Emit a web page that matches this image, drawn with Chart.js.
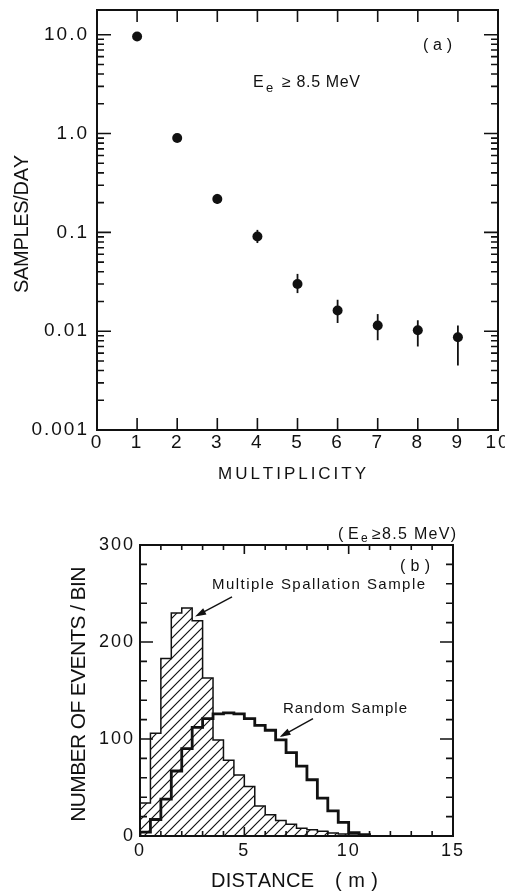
<!DOCTYPE html>
<html>
<head>
<meta charset="utf-8">
<script src="https://cdn.jsdelivr.net/npm/chart.js@4.4.1/dist/chart.umd.min.js"></script>
<style>
  html, body { margin: 0; padding: 0; background: #fff; overflow: hidden; }
  canvas { display: block; position: absolute; left: 0; }
  #multChart { top: 0; }
  #distChart { top: 490px; }
</style>
</head>
<body>
<canvas id="multChart" width="505" height="490"></canvas>
<canvas id="distChart" width="505" height="401"></canvas>
<script>
// (a) samples per day vs multiplicity
const multiplicity = [1, 2, 3, 4, 5, 6, 7, 8, 9];
const samplesPerDay = [9.6, 0.90, 0.218, 0.091, 0.030, 0.0162, 0.0114, 0.0102, 0.0087];
const errLow = [9.2, 0.86, 0.195, 0.078, 0.0243, 0.0121, 0.0081, 0.0070, 0.0045];
const errHigh = [10.0, 0.94, 0.245, 0.106, 0.038, 0.0208, 0.0149, 0.0129, 0.0114];
const rateTickValues = [0.001, 0.01, 0.1, 1, 10];
const rateTickLabels = ['0.001', '0.01', '0.1', '1.0', '10.0'];
const multTickValues = [1, 2, 3, 4, 5, 6, 7, 8, 9];

// (b) distance histograms, 0.5 m bins
const binEdges = [0, 0.5, 1, 1.5, 2, 2.5, 3, 3.5, 4, 4.5, 5, 5.5, 6, 6.5, 7, 7.5, 8, 8.5, 9, 9.5, 10, 10.5, 11];
const spallationCounts = [34, 106, 183, 230, 235, 222, 163, 99, 78, 63, 51, 31, 22, 16, 12, 8, 6.5, 5, 3, 2, 1, 0.5];
const randomCounts = [4, 17, 38, 67, 90, 112, 121, 126, 127, 126, 121, 114, 109, 99, 86, 72, 58, 39, 26, 14, 3.5, 1.5];
const distMajorTicks = [5, 10];
const distMinorTicks = [1, 2, 3, 4, 6, 7, 8, 9, 11, 12, 13, 14];
const countMajorTicks = [100, 200];
const countMinorTicks = [20, 40, 60, 80, 120, 140, 160, 180, 220, 240, 260, 280];

const ink = '#111';
const family = '"Liberation Sans", Arial, sans-serif';

function logMinorTicks(min, max) {
  const out = [];
  for (let e = -3; e <= 1; e++) {
    for (let m = 2; m <= 9; m++) {
      const v = m * Math.pow(10, e);
      if (v > min && v < max) out.push(v);
    }
  }
  return out;
}

function drawSpaced(ctx, str, x, y, size, width) {
  ctx.font = size + 'px ' + family;
  const chars = Array.from(str);
  const widths = chars.map(c => ctx.measureText(c).width);
  const total = widths.reduce((a, b) => a + b, 0);
  const gap = width && chars.length > 1 ? (width - total) / (chars.length - 1) : 0;
  let cx = x;
  chars.forEach((c, i) => {
    ctx.fillText(c, cx, y);
    cx += widths[i] + gap;
  });
}

// letter spacing for the tick labels drawn by the scales
const spacingPlugin = {
  id: 'spacing',
  beforeDraw(chart, args, opts) {
    chart.ctx.letterSpacing = opts.value || '0px';
  },
  afterDraw(chart) {
    chart.ctx.letterSpacing = '0px';
  }
};

// closed frame with inward ticks on all four sides
const frameTicks = {
  id: 'frameTicks',
  afterDatasetsDraw(chart, args, opts) {
    const {ctx, chartArea: a, scales} = chart;
    ctx.save();
    ctx.strokeStyle = ink;
    ctx.lineWidth = 1.6;
    ctx.beginPath();
    const xt = opts.xTicks, yt = opts.yTicks;
    [[xt.major, xt.majorLen], [xt.minor, xt.minorLen]].forEach(([vals, len]) => {
      vals.forEach(v => {
        const px = scales.x.getPixelForValue(v);
        ctx.moveTo(px, a.bottom); ctx.lineTo(px, a.bottom - len);
        ctx.moveTo(px, a.top); ctx.lineTo(px, a.top + len);
      });
    });
    [[yt.major, yt.majorLen], [yt.minor, yt.minorLen]].forEach(([vals, len]) => {
      vals.forEach(v => {
        const py = scales.y.getPixelForValue(v);
        ctx.moveTo(a.left, py); ctx.lineTo(a.left + len, py);
        ctx.moveTo(a.right, py); ctx.lineTo(a.right - len, py);
      });
    });
    ctx.stroke();
    ctx.lineWidth = 2;
    ctx.strokeRect(a.left, a.top, a.right - a.left, a.bottom - a.top);
    ctx.restore();
  }
};

// axis titles, labels and arrows
const notesPlugin = {
  id: 'notes',
  afterDraw(chart, args, opts) {
    const ctx = chart.ctx;
    ctx.save();
    ctx.letterSpacing = '0px';
    ctx.fillStyle = ink;
    ctx.strokeStyle = ink;
    ctx.textAlign = 'left';
    ctx.textBaseline = 'alphabetic';
    (opts.texts || []).forEach(t => {
      if (t.rotate) {
        ctx.save();
        ctx.translate(t.x, t.y);
        ctx.rotate(-Math.PI / 2);
        drawSpaced(ctx, t.text, 0, 0, t.size, t.width);
        ctx.restore();
      } else {
        drawSpaced(ctx, t.text, t.x, t.y, t.size, t.width);
      }
    });
    (opts.arrows || []).forEach(ar => {
      const x0 = chart.scales.x.getPixelForValue(ar.from[0]);
      const y0 = chart.scales.y.getPixelForValue(ar.from[1]);
      const x1 = chart.scales.x.getPixelForValue(ar.to[0]);
      const y1 = chart.scales.y.getPixelForValue(ar.to[1]);
      const ang = Math.atan2(y1 - y0, x1 - x0);
      const hl = 11, hw = 3.5;
      ctx.lineWidth = 1.4;
      ctx.beginPath();
      ctx.moveTo(x0, y0);
      ctx.lineTo(x1 - Math.cos(ang) * hl * 0.8, y1 - Math.sin(ang) * hl * 0.8);
      ctx.stroke();
      ctx.beginPath();
      ctx.moveTo(x1, y1);
      ctx.lineTo(x1 - Math.cos(ang) * hl - Math.sin(ang) * hw, y1 - Math.sin(ang) * hl + Math.cos(ang) * hw);
      ctx.lineTo(x1 - Math.cos(ang) * hl + Math.sin(ang) * hw, y1 - Math.sin(ang) * hl - Math.cos(ang) * hw);
      ctx.closePath();
      ctx.fill();
    });
    ctx.restore();
  }
};

function hatchPattern() {
  const s = 10;
  const c = document.createElement('canvas');
  c.width = s; c.height = s;
  const g = c.getContext('2d');
  g.strokeStyle = ink;
  g.lineWidth = 1.2;
  g.beginPath();
  g.moveTo(0, s); g.lineTo(s, 0);
  g.moveTo(-1, 1); g.lineTo(1, -1);
  g.moveTo(s - 1, s + 1); g.lineTo(s + 1, s - 1);
  g.stroke();
  return g.createPattern(c, 'repeat');
}

function stepPoints(counts) {
  const pts = [{x: binEdges[0], y: 0}];
  counts.forEach((c, i) => pts.push({x: binEdges[i], y: c}));
  pts.push({x: binEdges[counts.length], y: 0});
  return pts;
}

function rateLabel(v) {
  const i = rateTickValues.findIndex(t => Math.abs(Math.log10(t) - Math.log10(v)) < 1e-6);
  return i >= 0 ? rateTickLabels[i] : '';
}

const rateMax = 17.8;

new Chart(document.getElementById('multChart'), {
  type: 'line',
  data: {
    datasets: [
      {
        data: multiplicity.map((m, i) => ({x: m, y: samplesPerDay[i]})),
        showLine: false,
        pointRadius: 5,
        pointBackgroundColor: ink,
        pointBorderWidth: 0
      },
      ...multiplicity.map((m, i) => ({
        data: [{x: m, y: errLow[i]}, {x: m, y: errHigh[i]}],
        borderColor: ink,
        borderWidth: 1.8,
        pointRadius: 0
      }))
    ]
  },
  options: {
    responsive: false,
    animation: false,
    events: [],
    layout: {padding: {left: 0, right: 7, top: 10, bottom: 0}},
    plugins: {
      legend: {display: false},
      tooltip: {enabled: false},
      spacing: {value: '2px'},
      frameTicks: {
        xTicks: {major: multTickValues, majorLen: 12, minor: [], minorLen: 0},
        yTicks: {major: rateTickValues, majorLen: 14, minor: logMinorTicks(0.001, rateMax), minorLen: 7}
      },
      notes: {
        texts: [
          {text: 'SAMPLES/DAY', x: 28, y: 293, size: 20, width: 138, rotate: true},
          {text: 'MULTIPLICITY', x: 218, y: 478.5, size: 17, width: 148},
          {text: '( a )', x: 423, y: 50, size: 16, width: 29},
          {text: 'E', x: 253, y: 87, size: 16},
          {text: 'e', x: 266, y: 92, size: 13},
          {text: '\u2265 8.5 MeV', x: 282, y: 87, size: 16, width: 78}
        ]
      }
    },
    scales: {
      x: {
        type: 'linear', min: 0, max: 10,
        grid: {display: false, drawTicks: false},
        border: {display: false},
        ticks: {stepSize: 1, autoSkip: false, maxRotation: 0, padding: 1, color: ink, font: {size: 19, family: family}},
        afterFit: s => { s.height = 60; s.paddingLeft = 0; s.paddingRight = 0; }
      },
      y: {
        type: 'logarithmic', min: 0.001, max: rateMax,
        grid: {display: false, drawTicks: false},
        border: {display: false},
        ticks: {autoSkip: false, padding: 8, color: ink, font: {size: 19, family: family}, callback: rateLabel},
        afterFit: s => { s.width = 97; s.paddingTop = 0; s.paddingBottom = 0; }
      }
    }
  },
  plugins: [spacingPlugin, frameTicks, notesPlugin]
});

new Chart(document.getElementById('distChart'), {
  type: 'line',
  data: {
    datasets: [
      {
        label: 'Random Sample',
        data: stepPoints(randomCounts),
        stepped: true,
        fill: false,
        borderColor: ink,
        borderWidth: 2.8,
        pointRadius: 0
      },
      {
        label: 'Multiple Spallation Sample',
        data: stepPoints(spallationCounts),
        stepped: true,
        fill: 'origin',
        backgroundColor: hatchPattern(),
        borderColor: ink,
        borderWidth: 1.5,
        pointRadius: 0
      }
    ]
  },
  options: {
    responsive: false,
    animation: false,
    events: [],
    layout: {padding: {left: 0, right: 52, top: 55, bottom: 0}},
    plugins: {
      legend: {display: false},
      tooltip: {enabled: false},
      spacing: {value: '2px'},
      frameTicks: {
        xTicks: {major: distMajorTicks, majorLen: 9, minor: distMinorTicks, minorLen: 5},
        yTicks: {major: countMajorTicks, majorLen: 13, minor: countMinorTicks, minorLen: 7}
      },
      notes: {
        texts: [
          {text: 'NUMBER OF EVENTS / BIN', x: 85, y: 331.7, size: 21, width: 255, rotate: true},
          {text: 'DISTANCE', x: 211, y: 396.5, size: 20, width: 103},
          {text: '( m )', x: 335, y: 396.5, size: 20, width: 43},
          {text: '(', x: 338, y: 48.5, size: 16},
          {text: 'E', x: 348, y: 48.5, size: 16},
          {text: 'e', x: 361, y: 52, size: 12},
          {text: '\u22658.5 MeV)', x: 372, y: 48.5, size: 16, width: 84},
          {text: '( b )', x: 400, y: 81, size: 16, width: 30},
          {text: 'Multiple Spallation Sample', x: 212, y: 99, size: 15, width: 213},
          {text: 'Random Sample', x: 283, y: 222.5, size: 15, width: 124}
        ],
        arrows: [
          {from: [4.41, 246.4], to: [2.64, 226.3]},
          {from: [8.29, 121.1], to: [6.69, 102]}
        ]
      }
    },
    scales: {
      x: {
        type: 'linear', min: 0, max: 15,
        grid: {display: false, drawTicks: false},
        border: {display: false},
        ticks: {stepSize: 5, autoSkip: false, maxRotation: 0, padding: 4, color: ink, font: {size: 18, family: family}},
        afterFit: s => { s.height = 55; s.paddingLeft = 0; s.paddingRight = 0; }
      },
      y: {
        min: 0, max: 300,
        grid: {display: false, drawTicks: false},
        border: {display: false},
        ticks: {stepSize: 100, autoSkip: false, padding: 5, color: ink, font: {size: 18, family: family}},
        afterFit: s => { s.width = 140; s.paddingTop = 0; s.paddingBottom = 0; }
      }
    }
  },
  plugins: [spacingPlugin, frameTicks, notesPlugin]
});
</script>
</body>
</html>
